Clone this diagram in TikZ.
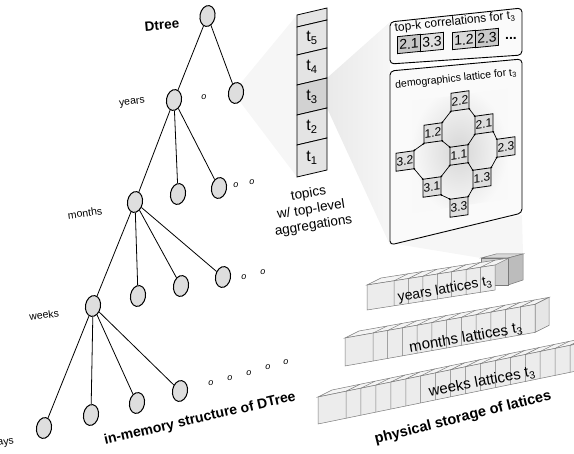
\documentclass[tikz,border=0pt]{standalone}
\usepackage{fontspec}
\setmainfont{Liberation Sans}
\usetikzlibrary{shapes.geometric,calc}
\definecolor{ngray}{HTML}{DEDEDE}
\definecolor{cellgray}{HTML}{E4E4E4}
\definecolor{selgray}{HTML}{D2D2D2}
\definecolor{facefront}{HTML}{ECECEC}
\definecolor{facetop}{HTML}{F4F4F4}
\definecolor{faceside}{HTML}{E6E6E6}
\definecolor{edgegray}{HTML}{7A7A7A}
\definecolor{darkfront}{HTML}{CFCFCF}
\definecolor{darkside}{HTML}{BCBCBC}
\definecolor{darktop}{HTML}{D8D8D8}
\newcommand{\fs}[1]{\fontsize{#1}{#1}\selectfont}
\newcommand{\boxat}[5]{\begin{scope}[shift={(#3,#4)}]\node[#1] (#2) at (0,0) {#5};\end{scope}}
\newcommand{\cuberow}[8]{%
  \pgfmathsetmacro\crxr{#1+#4}%
  \pgfmathsetmacro\crytr{#2+(#5)*(#4)}%
  \pgfmathsetmacro\crsegw{(#4-#6)/#7}%
  \filldraw[cubetop] (#1,#2) -- ++(14,-7) -- (\crxr+14,\crytr-7) -- (\crxr,\crytr) -- cycle;
  \ifnum#8=1
  \filldraw[cubeside] (\crxr,\crytr) -- ++(14,-7) -- ++(0,#3) -- (\crxr,\crytr+#3) -- cycle;
  \fi
  \filldraw[cubefront] (#1,#2) -- (\crxr,\crytr) -- (\crxr,\crytr+#3) -- (#1,#2+#3) -- cycle;
  \foreach \i in {1,...,#7}{%
    \pgfmathsetmacro\crx{#1+#6+(\i-1)*\crsegw}%
    \pgfmathsetmacro\cry{#2+(#5)*(\crx-#1)}%
    \draw[cubeedge] (\crx,\cry) -- ++(0,#3) (\crx,\cry) -- ++(14,-7);
  }%
}
\begin{document}
\begin{tikzpicture}[x=1pt,y=-1pt,
  tnode/.style={ellipse, draw, line width=1pt, fill=ngray, minimum width=15pt, minimum height=21pt, inner sep=0pt, rotate=-10},
  tedge/.style={line width=0.8pt},
  lvl/.style={font=\fs{10.5}, rotate=8, inner sep=0pt},
  odot/.style={font=\fs{9}\itshape, inner sep=0pt},
  bigbold/.style={font=\fs{14}\bfseries, inner sep=0pt},
  cellbox/.style={draw, line width=0.8pt, fill=cellgray},
  tlab/.style={font=\fs{16}, inner sep=0pt},
  panel/.style={draw, line width=0.9pt, fill=gray!4, rounded corners=4pt},
  lbox/.style={draw, line width=0.8pt, fill=ngray, minimum width=18pt, minimum height=18pt, inner sep=0pt, font=\fs{12}, yslant=0.14, transform shape},
  kbox/.style={draw, line width=0.8pt, minimum width=23pt, minimum height=17pt, inner sep=0pt, font=\fs{14}, yslant=0.1, transform shape},
  lline/.style={line width=0.7pt},
  cubefront/.style={fill=facefront, draw=edgegray, line width=0.5pt},
  cubetop/.style={fill=facetop, draw=edgegray, line width=0.5pt},
  cubeside/.style={fill=faceside, draw=edgegray, line width=0.5pt},
  cubeedge/.style={draw=edgegray, line width=0.5pt},
  rowtext/.style={inner sep=0pt}
]
\useasboundingbox (0,0) rectangle (574,454);
\clip (0,0) rectangle (574,454);

% ---------- projection fans ----------
\fill[gray!7] (240,84) -- (297,15) -- (297,177) -- (241,103) -- cycle;
\shade[left color=gray!17, right color=gray!7] (327,78) -- (390,22) -- (390,245) -- (327,108) -- cycle;
\fill[gray!7] (390,243) -- (522,215) -- (523,254) -- (481,258) -- cycle;

% ---------- tree ----------
\node[tnode] (root) at (207.5,16) {};
\node[tnode] (rc) at (236,93) {};
\node[tnode] (yrs) at (174,100) {};
\node[tnode] (mon) at (135,202) {};
\node[tnode] (y2) at (178,194) {};
\node[tnode] (y3) at (219,188) {};
\node[tnode] (wks) at (93,306) {};
\node[tnode] (m2) at (138,296) {};
\node[tnode] (m3) at (181,286) {};
\node[tnode] (m4) at (223,277) {};
\node[tnode] (d1) at (44,428) {};
\node[tnode] (d2) at (91,415) {};
\node[tnode] (d3) at (137,403) {};
\node[tnode] (d4) at (180,391) {};
\draw[tedge] (root) -- (yrs);
\draw[tedge] (root) -- (rc);
\draw[tedge] (yrs) -- (mon);
\draw[tedge] (yrs) -- (y2);
\draw[tedge] (yrs) -- (y3);
\draw[tedge] (mon) -- (wks);
\draw[tedge] (mon) -- (m2);
\draw[tedge] (mon) -- (m3);
\draw[tedge] (mon) -- (m4);
\draw[tedge] (wks) -- (d1);
\draw[tedge] (wks) -- (d2);
\draw[tedge] (wks) -- (d3);
\draw[tedge] (wks) -- (d4);

\node[odot] (o1) at (204,97) {o};
\node[odot] (o2) at (236,185) {o};
\node[odot] (o3) at (252,182) {o};
\node[odot] (o4) at (244,277) {o};
\node[odot] (o5) at (263,272) {o};
\node[odot] (o6) at (211,383) {o};
\node[odot] (o7) at (230,378) {o};
\node[odot] (o8) at (249,373) {o};
\node[odot] (o9) at (268,367) {o};
\node[odot] (o10) at (286,362) {o};

\node[font=\fs{13.5}\bfseries, rotate=5, inner sep=0pt] (dtree) at (162,25) {Dtree};
\node[lvl] (lyears) at (132,103) {years};
\node[lvl] (lmonths) at (85,213) {months};
\node[lvl] (lweeks) at (44,315) {weeks};
\node[lvl, anchor=east] (ldays) at (14,441) {days};
\node[bigbold, rotate=13] (inmem) at (200,419) {in-memory structure of DTree};

% ---------- topics column ----------
\filldraw[cellbox] (297,15) -- (327,8) -- (327,20) -- (297,27) -- cycle;
\filldraw[cellbox] (297,27) -- (327,20) -- (327,48) -- (297,55) -- cycle;
\filldraw[cellbox] (297,55) -- (327,48) -- (327,78) -- (297,85) -- cycle;
\filldraw[cellbox, fill=selgray] (297,85) -- (327,78) -- (327,108) -- (297,115) -- cycle;
\filldraw[cellbox] (297,115) -- (327,108) -- (327,138) -- (297,145) -- cycle;
\filldraw[cellbox] (297,145) -- (327,138) -- (327,170) -- (297,177) -- cycle;
\node[tlab] (t5) at (312,38) {t\textsubscript{5}};
\node[tlab] (t4) at (312,67) {t\textsubscript{4}};
\node[tlab] (t3) at (312,97) {t\textsubscript{3}};
\node[tlab] (t2) at (312,127) {t\textsubscript{2}};
\node[tlab] (t1) at (312,158) {t\textsubscript{1}};
\node[align=center, font=\fontsize{13.5}{16}\selectfont, rotate=9, inner sep=0pt] (topics) at (311,210) {topics\\w/ top-level\\aggregations};

% ---------- right panel ----------
\filldraw[panel] (390,22) -- (522,8) -- (522,55) -- (390,64) -- cycle;
\filldraw[panel] (390,71) -- (522,59) -- (522,213) -- (390,245) -- cycle;
\node[font=\fs{12}, rotate=6, inner sep=0pt] (topk) at (455,22) {top-k correlations for t\textsubscript{3}};
\boxat{kbox, fill=gray!45}{k21}{409}{44}{2.1}
\boxat{kbox, fill=gray!24}{k33}{432}{42}{3.3}
\boxat{kbox, fill=gray!30}{k12}{464}{40}{1.2}
\boxat{kbox, fill=gray!42}{k23}{487}{38}{2.3}
\node[font=\fs{14}\bfseries, inner sep=0pt] (kdots) at (511,38) {...};

\node[font=\fs{10.5}, rotate=6, inner sep=0pt] (demo) at (456,79) {demographics lattice for t\textsubscript{3}};
\shade[inner color=gray!32, outer color=gray!5] (412,101) -- (507,89) -- (507,199) -- (412,213) -- cycle;

\boxat{lbox}{l22}{460}{101}{2.2}
\boxat{lbox}{l12}{433}{133}{1.2}
\boxat{lbox}{l21}{484}{124}{2.1}
\boxat{lbox}{l23}{506}{147}{2.3}
\boxat{lbox}{l11}{459}{155}{1.1}
\boxat{lbox}{l32}{405}{161}{3.2}
\boxat{lbox}{l31}{432}{187}{3.1}
\boxat{lbox}{l13}{482}{178}{1.3}
\boxat{lbox}{l33}{459}{207}{3.3}
\foreach \a/\b in {l22.south west/l12.north east, l22.south east/l21.north west,
                   l12.south east/l11.north west, l21.south west/l11.north east,
                   l21.south east/l23.north west, l12.south west/l32.north east,
                   l32.south east/l31.north west, l11.south west/l31.north east,
                   l11.south east/l13.north west, l23.south west/l13.north east,
                   l31.south east/l33.north west, l13.south west/l33.north east}{
  \draw[lline] (\a) -- (\b);
  \fill (\a) circle (1pt);
  \fill (\b) circle (1pt);
}

% ---------- physical storage ----------
\filldraw[fill=darktop, draw=edgegray, line width=0.5pt] (481,258) -- (496,254) -- (523,254) -- (508,258) -- cycle;
\filldraw[fill=darkside, draw=edgegray, line width=0.5pt] (508,258) -- (523,254) -- (523,280) -- (508,285) -- cycle;
\filldraw[fill=darkfront, draw=edgegray, line width=0.5pt] (481,258) -- (508,258) -- (508,285) -- (481,285) -- cycle;

\cuberow{367}{285}{25}{128}{-0.156}{27}{7}{0}
\cuberow{345}{338}{28}{190}{-0.177}{28}{11}{1}
\cuberow{318}{397}{27}{282}{-0.205}{28}{17}{1}

\node[rowtext, font=\fs{14}, rotate=10] (ryears) at (445,290) {years lattices t\textsubscript{3}};
\node[rowtext, font=\fs{15}, rotate=10] (rmonths) at (466,338) {months lattices t\textsubscript{3}};
\node[rowtext, font=\fs{15}, rotate=11] (rweeks) at (482,382) {weeks lattices t\textsubscript{3}};
\node[bigbold, font=\fs{14.5}\bfseries, rotate=14] (phys) at (463,418) {physical storage of latices};
\end{tikzpicture}
\end{document}
